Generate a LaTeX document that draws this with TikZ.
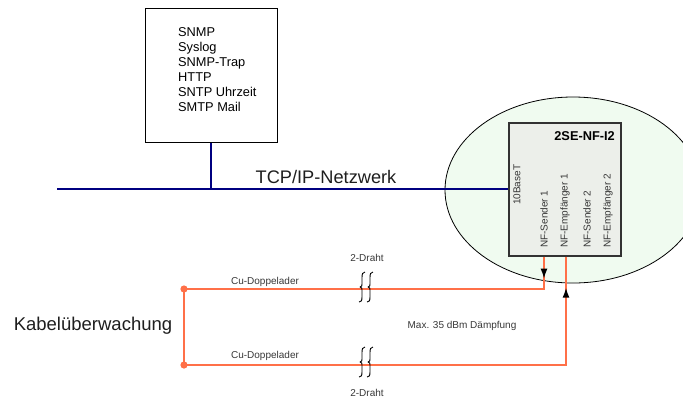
\documentclass[tikz,border=0pt]{standalone}
\usepackage{fontspec}
\setmainfont{Liberation Sans}
\usetikzlibrary{arrows.meta,decorations.markings,shapes.geometric}
\definecolor{navy}{RGB}{0,0,128}
\definecolor{wire}{RGB}{255,112,72}
\definecolor{ellfill}{RGB}{240,251,240}
\definecolor{boxfill}{RGB}{236,239,234}
\definecolor{txt}{RGB}{55,55,55}
\tikzset{
  net/.style={draw=navy, line width=2.3pt},
  wirestyle/.style={draw=wire, line width=1.5pt},
  small/.style={font=\fontsize{10}{12}\selectfont, text=txt, inner sep=0pt},
  vlabel/.style={small, rotate=90, anchor=west},
  wirebreak/.pic={
    \foreach \dx in {-4,4}{
      \draw[black, line width=0.9pt] (\dx+3,-15) .. controls (\dx+0.5,-15) and (\dx,-13) .. (\dx,-9) -- (\dx,-3) .. controls (\dx,-1) .. (\dx-1.8,0) .. controls (\dx,1) .. (\dx,3) -- (\dx,10) .. controls (\dx,14) and (\dx-1,15) .. (\dx-3,15);
    }
  }
}
\begin{document}
\begin{tikzpicture}[x=1pt,y=-1pt]
\useasboundingbox (0,0) rectangle (683,400);
\clip (0,0) rectangle (683,400);
% zone ellipse
\node[ellipse, draw=black, line width=0.8pt, fill=ellfill, minimum width=256pt, minimum height=186pt, inner sep=0pt] (zone) at (573,190) {};
% server box
\node[draw=black, line width=1pt, fill=white, minimum width=132pt, minimum height=134pt, inner sep=0pt] (srv) at (211,75) {};
\node[anchor=north west, align=left, inner sep=0pt, font=\fontsize{12.8}{15}\selectfont] (srvtext) at (178,27) {SNMP\\Syslog\\SNMP-Trap\\HTTP\\SNTP Uhrzeit\\SMTP Mail};
% device box
\node[draw={rgb,255:red,50;green,50;blue,50}, line width=1.3pt, fill=boxfill, minimum width=112pt, minimum height=133pt, inner sep=0pt] (dev) at (565,189.5) {};
\node[anchor=north east, inner sep=0pt, font=\bfseries\fontsize{12.8}{15}\selectfont] (devname) at (615,131) {2SE-NF-I2};
\node[vlabel] (p0) at (517,205) {10BaseT};
\node[vlabel] (p1) at (544,248) {NF-Sender 1};
\node[vlabel] (p2) at (565,248) {NF-Empfänger 1};
\node[vlabel] (p3) at (587,248) {NF-Sender 2};
\node[vlabel] (p4) at (608,248) {NF-Empfänger 2};
% network
\coordinate (netL) at (57,189);
\draw[net] (netL) -- (dev.west |- netL);
\draw[net] (srv.south) -- (srv.south |- netL);
\node[font=\fontsize{18.2}{20}\selectfont, text={rgb,255:red,30;green,30;blue,30}, inner sep=0pt] (netlabel) at (326,177) {TCP/IP-Netzwerk};
% wires
\coordinate (dotT) at (184,289);
\coordinate (dotB) at (184,365);
\draw[wirestyle, postaction={decorate}, decoration={markings, mark=at position 22pt with {\arrow[black]{Latex[length=10pt,width=7pt]}}}] (544,0 |- dev.south) |- (dotT);
\draw[wirestyle, postaction={decorate}, decoration={markings, mark=at position 31pt with {\arrowreversed[black]{Latex[length=10pt,width=7pt]}}}] (566,0 |- dev.south) |- (dotB);
\draw[wirestyle] (dotT) -- (dotB);
\fill[wire] (dotT) circle (3.6pt);
\fill[wire] (dotB) circle (3.6pt);
\pic (brkT) at (366,287) {wirebreak};
\pic (brkB) at (366,362) {wirebreak};
% labels
\node[small] (cuT) at (265,282) {Cu-Doppelader};
\node[small] (cuB) at (265,356) {Cu-Doppelader};
\node[small] (drT) at (367,258) {2-Draht};
\node[small] (drB) at (367,393) {2-Draht};
\node[small] (damp) at (462,326) {Max. 35 dBm Dämpfung};
\node[font=\fontsize{18.5}{20}\selectfont, text={rgb,255:red,30;green,30;blue,30}, inner sep=0pt] (kabel) at (93,326) {Kabelüberwachung};
\end{tikzpicture}
\end{document}
